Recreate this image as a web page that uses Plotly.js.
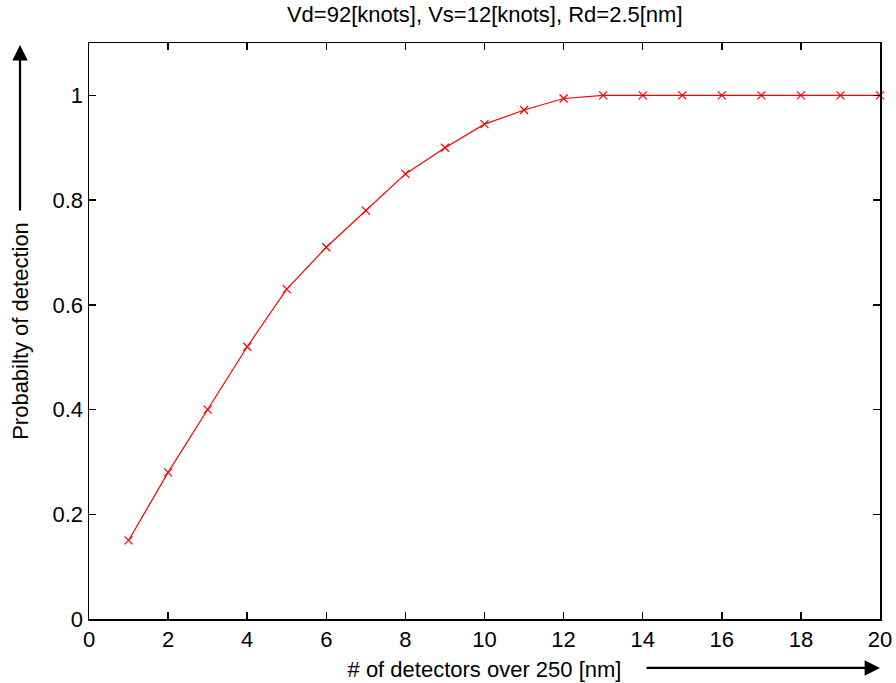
<!DOCTYPE html>
<html>
<head>
<meta charset="utf-8">
<script src="https://cdn.plot.ly/plotly-3.0.1.min.js"></script>
<style>html,body{margin:0;padding:0;background:#fff;}#chart{width:896px;height:683px;}</style>
</head>
<body>
<div id="chart"></div>
<script>
const detectors = [1,2,3,4,5,6,7,8,9,10,11,12,13,14,15,16,17,18,19,20];
const probability = [0.15,0.28,0.40,0.52,0.63,0.71,0.78,0.85,0.90,0.945,0.972,0.994,1,1,1,1,1,1,1,1];
const xTicks = [0,2,4,6,8,10,12,14,16,18,20];
const yTicks = [0,0.2,0.4,0.6,0.8,1];
const yTickLabels = ['0','0.2','0.4','0.6','0.8','1'];
const titleText = 'Vd=92[knots], Vs=12[knots], Rd=2.5[nm]';
const xTitle = '# of detectors over 250 [nm]';
const yTitle = 'Probabilty of detection';

const font = {family: 'Liberation Sans, Arial, sans-serif', size: 22, color: '#000'};

const trace = {
  x: detectors, y: probability, type: 'scatter', mode: 'lines+markers',
  line: {color: '#ff0000', width: 1.2},
  marker: {symbol: 'x-thin', size: 8, line: {color: '#ff0000', width: 1.2}, color: '#ff0000'},
  cliponaxis: false
};

const axisCommon = {
  showgrid: false, zeroline: false, showline: true, linecolor: '#000', linewidth: 1.5,
  mirror: 'ticks', ticks: 'inside', ticklen: 7, tickwidth: 1.5, tickcolor: '#000',
  tickfont: font, automargin: false
};

const layout = {
  width: 896, height: 683,
  margin: {l: 89, r: 16, t: 43, b: 64},
  paper_bgcolor: '#fff', plot_bgcolor: '#fff',
  font: font,
  showlegend: false,
  title: {text: titleText, font: font, x: 0.541, xanchor: 'center', y: 0.979, yanchor: 'middle'},
  xaxis: Object.assign({}, axisCommon, {
    range: [0, 20], tickvals: xTicks, ticktext: xTicks.map(String),
    title: {text: xTitle, font: font, standoff: 10}
  }),
  yaxis: Object.assign({}, axisCommon, {
    range: [0, 1.1], tickvals: yTicks, ticktext: yTickLabels,
    title: {text: yTitle, font: font, standoff: 18}
  }),
  annotations: [
    {xref: 'paper', yref: 'paper', axref: 'paper', ayref: 'paper',
     x: -0.0872, y: 0.9965, ax: -0.0872, ay: 0.7066, text: '', showarrow: true,
     arrowhead: 2, arrowsize: 1.4, arrowwidth: 2.2, arrowcolor: '#000', standoff: 0, startstandoff: 0},
    {xref: 'paper', yref: 'paper', axref: 'paper', ayref: 'paper',
     x: 1.0, y: -0.085, ax: 0.703, ay: -0.085, text: '', showarrow: true,
     arrowhead: 2, arrowsize: 1.4, arrowwidth: 2.2, arrowcolor: '#000', standoff: 0, startstandoff: 0}
  ]
};

Plotly.newPlot('chart', [trace], layout, {displayModeBar: false, staticPlot: true});
</script>
</body>
</html>
